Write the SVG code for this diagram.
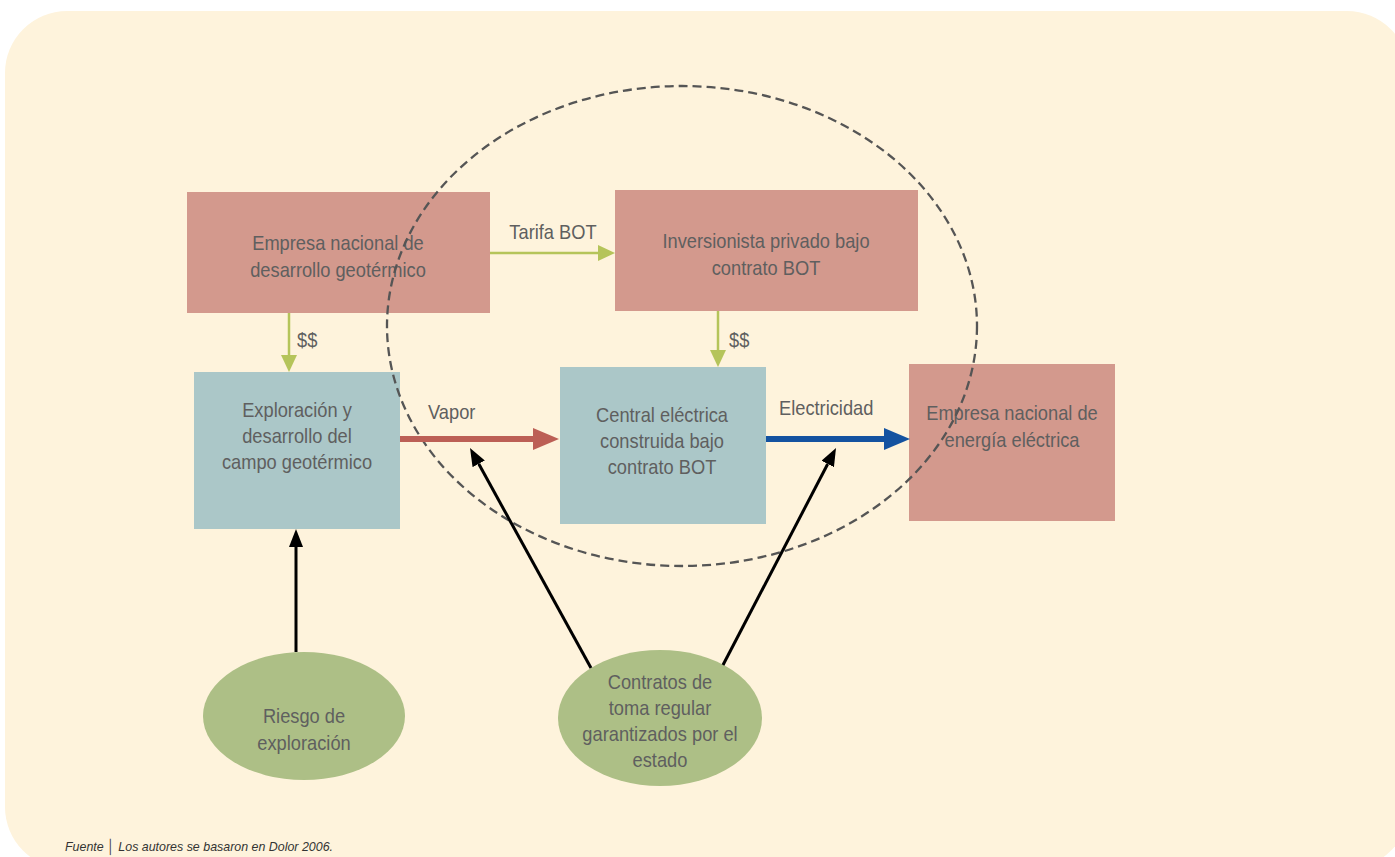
<svg xmlns="http://www.w3.org/2000/svg" width="1395" height="857" viewBox="0 0 1395 857">
<defs>
<style>
.t{font-family:"Liberation Sans Narrow","Liberation Sans",Arial,sans-serif;font-size:21px;fill:#5f5f5f;text-anchor:middle}
.lbl{font-family:"Liberation Sans Narrow","Liberation Sans",Arial,sans-serif;font-size:21px;fill:#5f5f5f}
.pink{fill:#d3998d}
.blue{fill:#abc7c8}
.green{fill:#adbf86}
</style>
<marker id="mg" viewBox="0 0 10 10" refX="0" refY="5" markerWidth="17" markerHeight="16" markerUnits="userSpaceOnUse" orient="auto" preserveAspectRatio="none"><path d="M0,0L10,5L0,10z" fill="#b5c45a"/></marker>
<marker id="mr" viewBox="0 0 10 10" refX="0" refY="5" markerWidth="26" markerHeight="22" markerUnits="userSpaceOnUse" orient="auto" preserveAspectRatio="none"><path d="M0,0L10,5L0,10z" fill="#bc5f55"/></marker>
<marker id="mb" viewBox="0 0 10 10" refX="0" refY="5" markerWidth="26" markerHeight="22" markerUnits="userSpaceOnUse" orient="auto" preserveAspectRatio="none"><path d="M0,0L10,5L0,10z" fill="#1452a0"/></marker>
<marker id="mk" viewBox="0 0 10 10" refX="0" refY="5" markerWidth="18" markerHeight="14" markerUnits="userSpaceOnUse" orient="auto" preserveAspectRatio="none"><path d="M0,0L10,5L0,10z" fill="#000"/></marker>
</defs>
<rect x="0" y="0" width="1395" height="857" fill="#fff"/>
<rect x="5" y="11" width="1404" height="858" rx="62" ry="62" fill="#fef3dc"/>

<g id="n-empresa-geo"><rect class="pink" x="187" y="192" width="303" height="121"/><text class="t" transform="translate(338 250) scale(0.87 1)">Empresa nacional de</text><text class="t" transform="translate(338 277) scale(0.87 1)">desarrollo geotérmico</text></g>
<g id="n-inversionista"><rect class="pink" x="615" y="190" width="303" height="121"/><text class="t" transform="translate(766 248) scale(0.87 1)">Inversionista privado bajo</text><text class="t" transform="translate(766 275) scale(0.87 1)">contrato BOT</text></g>
<g id="n-exploracion"><rect class="blue" x="194" y="372" width="206" height="157"/><text class="t" transform="translate(297 417) scale(0.87 1)">Exploración y</text><text class="t" transform="translate(297 443) scale(0.87 1)">desarrollo del</text><text class="t" transform="translate(297 469) scale(0.87 1)">campo geotérmico</text></g>
<g id="n-central"><rect class="blue" x="560" y="367" width="206" height="157"/><text class="t" transform="translate(662 422) scale(0.87 1)">Central eléctrica</text><text class="t" transform="translate(662 448) scale(0.87 1)">construida bajo</text><text class="t" transform="translate(662 474) scale(0.87 1)">contrato BOT</text></g>
<g id="n-empresa-ee"><rect class="pink" x="909" y="364" width="206" height="157"/><text class="t" transform="translate(1012 420) scale(0.87 1)">Empresa nacional de</text><text class="t" transform="translate(1012 447) scale(0.87 1)">energía eléctrica</text></g>
<g id="n-riesgo"><ellipse class="green" cx="304" cy="716" rx="101" ry="64"/><text class="t" transform="translate(304 723) scale(0.87 1)">Riesgo de</text><text class="t" transform="translate(304 750) scale(0.87 1)">exploración</text></g>
<g id="n-contratos"><ellipse class="green" cx="660" cy="718" rx="102" ry="68"/><text class="t" transform="translate(660 689) scale(0.87 1)">Contratos de</text><text class="t" transform="translate(660 715) scale(0.87 1)">toma regular</text><text class="t" transform="translate(660 741) scale(0.87 1)">garantizados por el</text><text class="t" transform="translate(660 767) scale(0.87 1)">estado</text></g>

<g id="boundary"><ellipse cx="682" cy="326" rx="295" ry="240" fill="none" stroke="#555" stroke-width="2.3" stroke-dasharray="9,5"/></g>

<g id="connectors">
<line x1="490" y1="253" x2="598" y2="253" stroke="#b5c45a" stroke-width="2.5" marker-end="url(#mg)"/>
<line x1="289" y1="313" x2="289" y2="355" stroke="#b5c45a" stroke-width="2.5" marker-end="url(#mg)"/>
<line x1="718" y1="311" x2="718" y2="350" stroke="#b5c45a" stroke-width="2.5" marker-end="url(#mg)"/>
<line x1="400" y1="439" x2="533" y2="439" stroke="#bc5f55" stroke-width="6" marker-end="url(#mr)"/>
<line x1="766" y1="439" x2="884" y2="439" stroke="#1452a0" stroke-width="6" marker-end="url(#mb)"/>
<line x1="296" y1="652" x2="296" y2="547" stroke="#000" stroke-width="3" marker-end="url(#mk)"/>
<line x1="591" y1="668" x2="478.7" y2="463.8" stroke="#000" stroke-width="3" marker-end="url(#mk)"/>
<line x1="723" y1="665" x2="827.7" y2="464" stroke="#000" stroke-width="3" marker-end="url(#mk)"/>
<text class="lbl" transform="translate(553 239) scale(0.87 1)" text-anchor="middle">Tarifa BOT</text>
<text class="lbl" transform="translate(297 347) scale(0.87 1)">$$</text>
<text class="lbl" transform="translate(729 347) scale(0.87 1)">$$</text>
<text class="lbl" transform="translate(428 419) scale(0.87 1)">Vapor</text>
<text class="lbl" transform="translate(779 415) scale(0.87 1)">Electricidad</text>
</g>
<text transform="translate(65 851) scale(0.92 1)" font-family="'Liberation Sans Narrow','Liberation Sans',Arial,sans-serif" font-size="13.5" font-style="italic" fill="#333">Fuente │ Los autores se basaron en Dolor 2006.</text>
</svg>
